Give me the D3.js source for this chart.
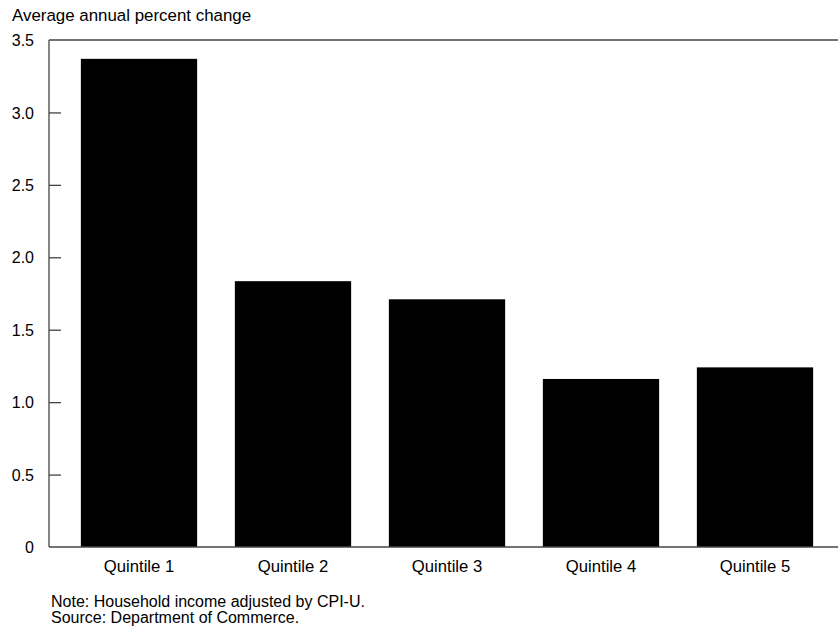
<!DOCTYPE html>
<html>
<head>
<meta charset="utf-8">
<script src="https://cdn.jsdelivr.net/npm/d3@7/dist/d3.min.js"></script>
<style>
  html, body { margin: 0; padding: 0; background: #fff; }
  svg { display: block; font-family: "Liberation Sans", Arial, sans-serif; }
</style>
</head>
<body>
<svg id="chart" width="838" height="630"></svg>
<script>
const categories = ["Quintile 1", "Quintile 2", "Quintile 3", "Quintile 4", "Quintile 5"];
const values = [3.37, 1.835, 1.71, 1.16, 1.24];
const yTicks = [0, 0.5, 1.0, 1.5, 2.0, 2.5, 3.0, 3.5];
const yTickLabels = ["0", "0.5", "1.0", "1.5", "2.0", "2.5", "3.0", "3.5"];
const titleText = "Average annual percent change";
const notes = ["Note: Household income adjusted by CPI-U.", "Source: Department of Commerce."];

const svg = d3.select("#chart");
const mLeft = 49, mRight = 838, mTop = 40, mBottom = 547;

const y = d3.scaleLinear().domain([0, 3.5]).range([mBottom, mTop]);
const x = d3.scaleBand().domain(categories).range([62, 832])
  .paddingInner(0.245).paddingOuter(0.1225);

// bars
svg.append("g").selectAll("rect").data(values).join("rect")
  .attr("x", (d, i) => x(categories[i]))
  .attr("width", x.bandwidth())
  .attr("y", d => y(d))
  .attr("height", d => y(0) - y(d))
  .attr("fill", "#000");

// frame lines
const lineColor = "#444";
svg.append("line").attr("x1", mLeft).attr("x2", mRight).attr("y1", mTop).attr("y2", mTop)
  .attr("stroke", lineColor).attr("stroke-width", 1.3);
svg.append("line").attr("x1", mLeft).attr("x2", mRight).attr("y1", mBottom).attr("y2", mBottom)
  .attr("stroke", lineColor).attr("stroke-width", 1.3);

// y axis with inward ticks
const yAxis = d3.axisRight(y).tickValues(yTicks).tickSize(12)
  .tickFormat((d, i) => yTickLabels[i]);
const gy = svg.append("g").attr("transform", `translate(${mLeft},0)`).call(yAxis);
gy.select(".domain").attr("stroke", lineColor).attr("stroke-width", 1.3)
  .attr("d", `M0,${mTop}V${mBottom}`);
gy.selectAll(".tick line").attr("stroke", lineColor).attr("stroke-width", 1.3);
gy.selectAll(".tick").filter(d => d === 0 || d === 3.5).select("line").remove();
gy.selectAll(".tick text")
  .attr("x", -15).attr("dy", "0.35em")
  .attr("text-anchor", "end")
  .attr("fill", "#000")
  .style("font-size", "16px");

// x labels
const xAxis = d3.axisBottom(x).tickSize(0).tickPadding(0);
const gx = svg.append("g").attr("transform", `translate(0,${mBottom})`).call(xAxis);
gx.select(".domain").remove();
gx.selectAll(".tick text").attr("y", 25).attr("dy", 0)
  .attr("fill", "#000").style("font-size", "16.7px");

// title
svg.append("text").attr("x", 12).attr("y", 21).text(titleText)
  .style("font-size", "16.9px").attr("fill", "#000");

// notes
svg.selectAll("text.note").data(notes).join("text").attr("class", "note")
  .attr("x", 51).attr("y", (d, i) => 607 + i * 16)
  .style("font-size", "16px").attr("fill", "#000")
  .text(d => d);
</script>
</body>
</html>
